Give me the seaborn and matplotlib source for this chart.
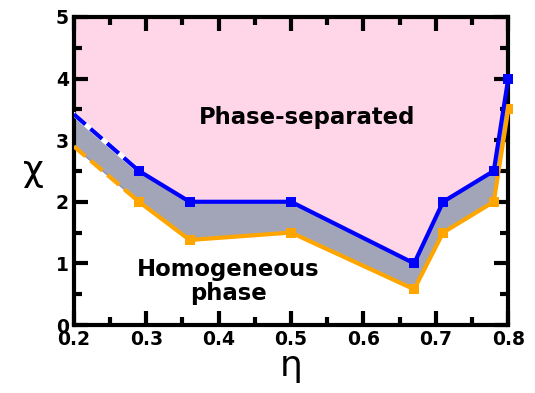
import numpy as np
import pandas as pd
import seaborn as sns
import matplotlib.pyplot as plt

# Phase boundary data
eta = [0.2, 0.29, 0.36, 0.5, 0.67, 0.71, 0.78, 0.8]
chi_upper = [3.42, 2.5, 2.0, 2.0, 1.0, 2.0, 2.5, 4.0]
chi_lower = [2.9, 2.0, 1.38, 1.5, 0.58, 1.5, 2.0, 3.5]

xticks = [0.2, 0.3, 0.4, 0.5, 0.6, 0.7, 0.8]
yticks = [0, 1, 2, 3, 4, 5]
xminor = [0.25, 0.35, 0.45, 0.55, 0.65, 0.75]
yminor = [0.5, 1.5, 2.5, 3.5, 4.5]

blue = "#0000ff"
orange = "#ffa500"
pink = "#ffd6e8"
grey = "#a2a5b7"

sns.set_style("white")
plt.rcParams['font.family'] = ['DejaVu Sans']
plt.rcParams['xtick.color'] = 'black'
plt.rcParams['ytick.color'] = 'black'
plt.rcParams['axes.labelcolor'] = 'black'

df = pd.DataFrame({'eta': eta, 'upper': chi_upper, 'lower': chi_lower})
dash_part = df.iloc[:2]
solid_part = df.iloc[1:]

fig, ax = plt.subplots(figsize=(5.35, 3.93), dpi=100)
fig.subplots_adjust(left=0.138, right=0.95, bottom=0.173, top=0.957)

# filled regions
ax.fill_between(df['eta'], df['upper'], 5, color=pink, lw=0, zorder=0)
ax.fill_between(df['eta'], df['lower'], df['upper'], color=grey,
                edgecolor="#8f92a3", lw=1, zorder=1)

# dashed extrapolated part
sns.lineplot(data=dash_part, x='eta', y='lower', ax=ax, color=orange, lw=3,
             linestyle='--', zorder=3)
sns.lineplot(data=dash_part, x='eta', y='upper', ax=ax, color='white', lw=3.5, zorder=3)
sns.lineplot(data=dash_part, x='eta', y='upper', ax=ax, color=blue, lw=3,
             linestyle='--', zorder=4)

# solid boundaries with markers
sns.lineplot(data=solid_part, x='eta', y='lower', ax=ax, color=orange, lw=3,
             marker='s', markersize=6.5, markeredgewidth=0, zorder=3, clip_on=False)
sns.lineplot(data=solid_part, x='eta', y='upper', ax=ax, color=blue, lw=3,
             marker='s', markersize=6.5, markeredgewidth=0, zorder=4, clip_on=False)

ax.text(0.522, 3.36, "Phase-separated", ha='center', va='center',
        fontsize=16.4, fontweight='bold', color='black')
ax.text(0.413, 0.71, "Homogeneous\nphase", ha='center', va='center',
        fontsize=16.4, fontweight='bold', color='black', linespacing=1.05)

ax.set_xlim(0.2, 0.8)
ax.set_ylim(0, 5)
ax.set_xticks(xticks)
ax.set_yticks(yticks)
ax.set_xticks(xminor, minor=True)
ax.set_yticks(yminor, minor=True)
ax.set_xticklabels([f"{v:.1f}" for v in xticks], fontsize=13.5, fontweight='bold')
ax.set_yticklabels([str(v) for v in yticks], fontsize=13.5, fontweight='bold')
ax.set_xlabel("η", fontsize=26, labelpad=0)
ax.set_ylabel("χ", fontsize=26, rotation=0, labelpad=16, va='center')

for s in ax.spines.values():
    s.set_linewidth(3)
    s.set_color('black')

ax.tick_params(which='major', direction='in', length=10, width=3,
               top=True, right=True, bottom=True, left=True)
ax.tick_params(which='minor', direction='in', length=6, width=3,
               top=True, right=True, bottom=True, left=True)

fig.savefig("out.png", dpi=100)
